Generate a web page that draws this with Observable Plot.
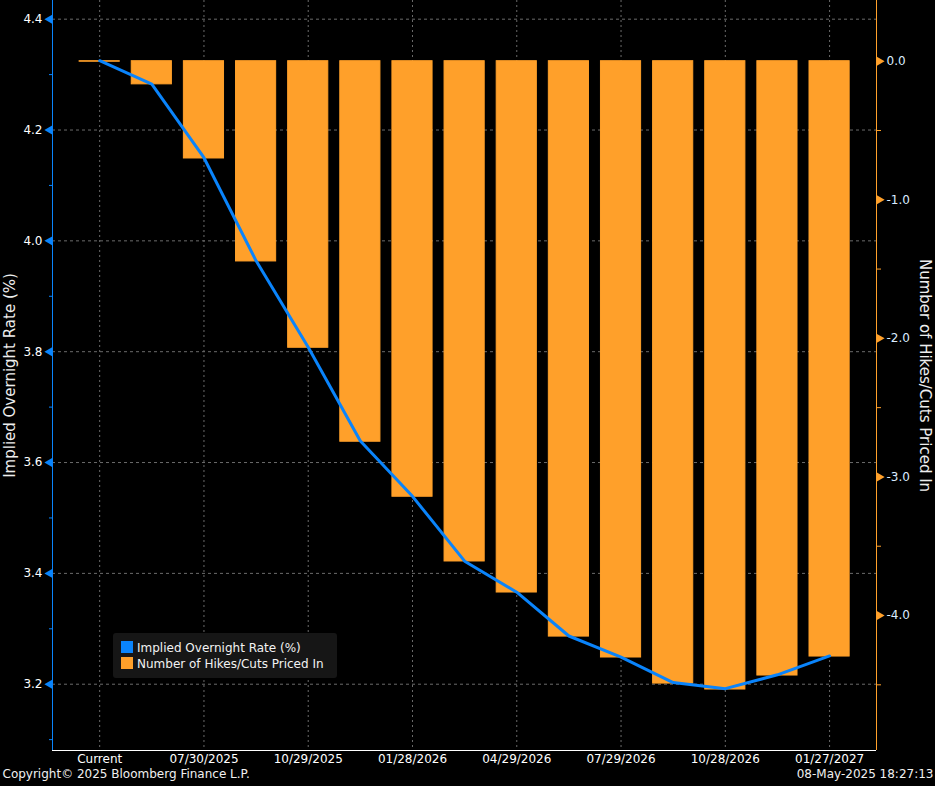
<!DOCTYPE html>
<html>
<head>
<meta charset="utf-8">
<script src="https://cdn.jsdelivr.net/npm/d3@7"></script>
<script src="https://cdn.jsdelivr.net/npm/@observablehq/plot@0.6"></script>
<style>
  html, body { margin: 0; padding: 0; background: #000; }
  #wrap { position: relative; width: 935px; height: 786px; background: #000; overflow: hidden; }
  #legend { position: absolute; left: 113px; top: 633px; width: 224px; height: 45px;
    background: #161616; border-radius: 3px; font-family: "DejaVu Sans", sans-serif; font-size: 12px; color: #f2f2f2; }
  .item { position: absolute; left: 8px; height: 14px; line-height: 14px; white-space: nowrap; }
  .sw { display: inline-block; width: 12px; height: 12px; vertical-align: -1px; margin-right: 4px; }
</style>
</head>
<body>
<div id="wrap"></div>
<script>
// ---- data ----
const dates = ["Current","06/18/2025","07/30/2025","09/17/2025","10/29/2025","12/10/2025",
  "01/28/2026","03/18/2026","04/29/2026","06/17/2026","07/29/2026","09/16/2026",
  "10/28/2026","12/09/2026","01/27/2027"];
const impliedRate = [4.325, 4.283, 4.150, 3.964, 3.808, 3.639, 3.539, 3.422, 3.366,
  3.287, 3.249, 3.203, 3.192, 3.217, 3.251];
const hikesCuts = [-0.004, -0.167, -0.702, -1.445, -2.068, -2.746, -3.143, -3.610, -3.834,
  -4.152, -4.303, -4.491, -4.534, -4.433, -4.296];
const labelIndex = [0, 2, 4, 6, 8, 10, 12, 14];
const rateTicks = [3.2, 3.4, 3.6, 3.8, 4.0, 4.2, 4.4];
const rateMinorTicks = [3.1, 3.3, 3.5, 3.7, 3.9, 4.1, 4.3];
const hikeTicks = [0, -1, -2, -3, -4];
const hikeMinorTicks = [-0.5, -1.5, -2.5, -3.5, -4.5];
const rateDomain = [3.0804, 4.4337];
const hikeDomain = [-4.974, 0.438];
const legendItems = ["Implied Overnight Rate (%)", "Number of Hikes/Cuts Priced In"];

const BLUE = "#0a84fb", ORANGE = "#ffa02a", GRID = "#6b6b6b";
const rows = dates.map((d, i) => ({i, date: d, rate: impliedRate[i], hikes: hikesCuts[i]}));
// right axis (hikes) mapped onto the left (rate) scale
const H = d3.scaleLinear().domain(hikeDomain).range(rateDomain);
const half = 0.385;
const fmtRate = v => v.toFixed(1);
const fmtHike = v => { const h = Math.round(H.invert(v) * 10) / 10; return (h === 0 ? 0 : h).toFixed(1); };

const chart = Plot.plot({
  width: 935, height: 786,
  marginTop: 0, marginLeft: 52, marginRight: 59, marginBottom: 36,
  style: {background: "#000", color: "#fff", fontFamily: "DejaVu Sans, sans-serif", fontSize: "12px"},
  x: {type: "linear", domain: [-0.905, 14.9]},
  y: {domain: rateDomain},
  marks: [
    Plot.gridX(labelIndex, {stroke: GRID, strokeOpacity: 1, strokeDasharray: "2,3"}),
    Plot.gridY(rateTicks, {stroke: GRID, strokeOpacity: 1, strokeDasharray: "3,3"}),
    Plot.rect(rows, {x1: d => d.i - half, x2: d => d.i + half, y1: d => H(0), y2: d => H(d.hikes),
      fill: ORANGE, stroke: ORANGE, strokeWidth: 1}),
    Plot.line(rows, {x: "i", y: "rate", stroke: BLUE, strokeWidth: 3, strokeLinejoin: "round"}),
    Plot.ruleX([-0.905], {stroke: BLUE, strokeWidth: 1}),
    Plot.ruleX([14.9], {stroke: ORANGE, strokeWidth: 1}),
    Plot.ruleY([rateDomain[0]], {stroke: "#fff", strokeWidth: 1}),
    // bottom axis
    Plot.axisX(labelIndex, {anchor: "bottom", tickSize: 0, tickPadding: 4, tickFormat: i => dates[i],
      fill: "#fff", fontSize: 12, label: null}),
    // left axis
    Plot.axisY(rateMinorTicks, {anchor: "left", tickSize: 3, stroke: BLUE, tickFormat: () => "", label: null}),
    Plot.axisY(rateTicks, {anchor: "left", tickSize: 0, tickPadding: 10, tickFormat: fmtRate,
      fill: "#fff", fontSize: 12, label: null}),
    Plot.dot(rateTicks, {y: d => d, frameAnchor: "left", symbol: "triangle", rotate: -90, r: 3.5,
      fill: BLUE, stroke: null, dx: -2.7}),
    // right axis (hikes/cuts)
    Plot.axisY(hikeMinorTicks.map(H), {anchor: "right", tickSize: 4, stroke: ORANGE, tickFormat: () => "", label: null}),
    Plot.axisY(hikeTicks.map(H), {anchor: "right", tickSize: 0, tickPadding: 10, tickFormat: fmtHike,
      fill: "#dcecff", fontSize: 12, label: null}),
    Plot.dot(hikeTicks, {y: d => H(d), frameAnchor: "right", symbol: "triangle", rotate: 90, r: 3.5,
      fill: ORANGE, stroke: null, dx: 2.7}),
    // axis titles
    Plot.text(["Implied Overnight Rate (%)"], {text: d => d, frameAnchor: "left", rotate: -90, dx: -42,
      textAnchor: "middle", fontSize: 15, fill: "#eeeeee"}),
    Plot.text(["Number of Hikes/Cuts Priced In"], {text: d => d, frameAnchor: "right", rotate: 90, dx: 48,
      textAnchor: "middle", fontSize: 15, fill: "#eeeeee"}),
    // footer
    Plot.text(["Copyright\u00A9 2025 Bloomberg Finance L.P."], {text: d => d, frameAnchor: "bottom-left",
      dx: -50, dy: 27, textAnchor: "start", fontSize: 12, fill: "#f0f0f0"}),
    Plot.text(["08-May-2025 18:27:13"], {text: d => d, frameAnchor: "bottom-right",
      dx: 57, dy: 27, textAnchor: "end", fontSize: 12, fill: "#f0f0f0"})
  ]
});

const wrap = document.getElementById("wrap");
wrap.appendChild(chart);
const legend = document.createElement("div");
legend.id = "legend";
[BLUE, ORANGE].forEach((c, k) => {
  const it = document.createElement("div");
  it.className = "item";
  it.style.top = (8 + k * 16) + "px";
  it.innerHTML = `<span class="sw" style="background:${c}"></span>`;
  it.appendChild(document.createTextNode(legendItems[k]));
  legend.appendChild(it);
});
wrap.appendChild(legend);
</script>
</body>
</html>
